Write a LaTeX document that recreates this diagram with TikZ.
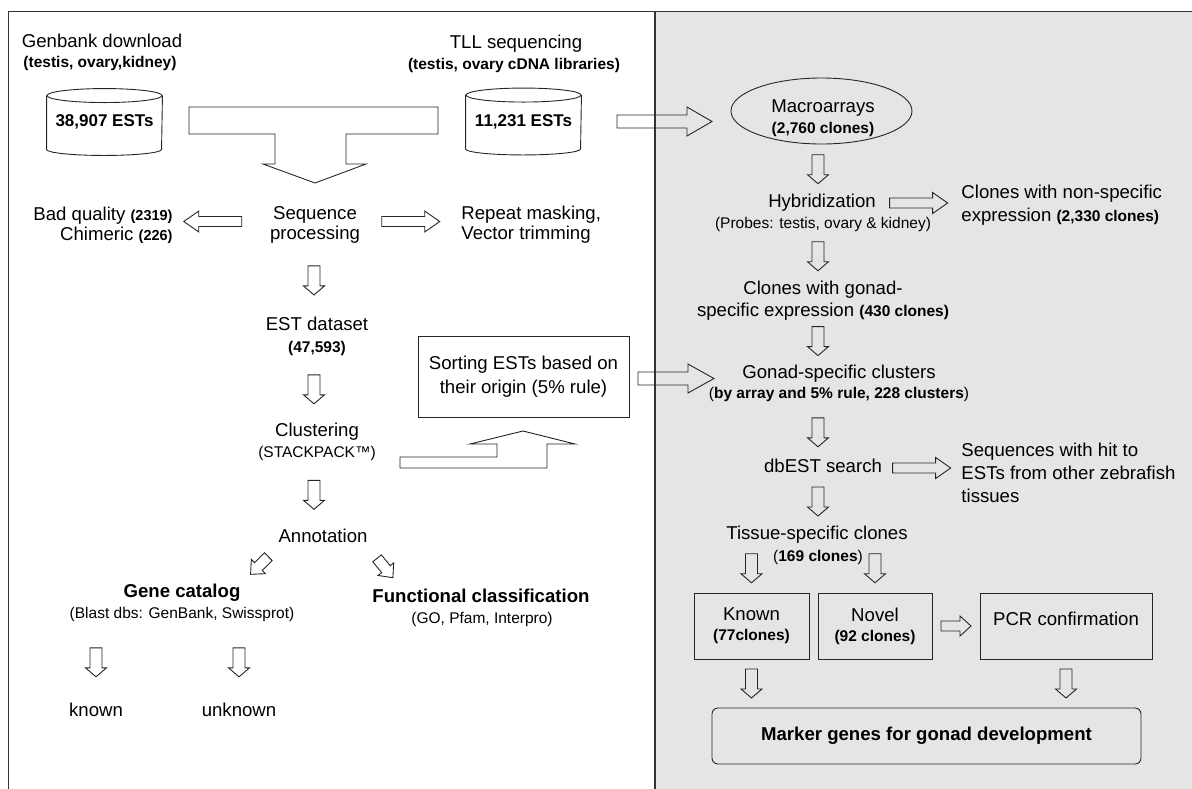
\documentclass[tikz,border=0pt]{standalone}
\usepackage{fontspec}
\setmainfont{Liberation Sans}
\usepackage{tikz}
\usetikzlibrary{shapes,arrows,calc,positioning}

% hollow block arrow centred between start and target:
% {length}{half shaft}{half head}{head length}
\tikzset{hollow/.style n args={4}{to path={
  let \p1=(\tikztostart), \p2=(\tikztotarget),
      \n1={atan2(\y2-\y1,\x2-\x1)},
      \p3=($(\p1)!0.5!(\p2)$)
  in ($(\p3)+(\n1+180:#1pt/2)+(\n1+90:#2pt)$)
     -- ++(\n1:#1pt-#4pt) -- ++(\n1+90:#3pt-#2pt)
     -- ($(\p3)+(\n1:#1pt/2)$)
     -- ($(\p3)+(\n1:#1pt/2-#4pt)+(\n1-90:#3pt)$)
     -- ++(\n1+90:#3pt-#2pt)
     -- ($(\p3)+(\n1+180:#1pt/2)+(\n1-90:#2pt)$) -- cycle}}}
\newcommand{\numbf}[1]{{\fontsize{15.5}{18}\selectfont\bfseries #1}}

\begin{document}
\begin{tikzpicture}[x=1pt, y=-1pt, line width=0.9pt]
	\tikzstyle{Txt}   = [inner sep=0pt, text height=13.4pt, text depth=3.7pt, font=\fontsize{18.6}{22}\selectfont]
	\tikzstyle{Head}  = [Txt, font=\fontsize{18.6}{22}\selectfont\bfseries]
	\tikzstyle{Multi} = [inner sep=0pt, align=center, font=\fontsize{18.6}{22}\selectfont]
	\tikzstyle{Sub}   = [inner sep=0pt, text height=11.2pt, text depth=3.1pt, font=\fontsize{15.5}{18}\selectfont\bfseries]
	\tikzstyle{SubN}  = [Sub, font=\fontsize{15.5}{18}\selectfont]
	\tikzstyle{Store} = [inner sep=0pt, minimum width=115pt, minimum height=66pt, font=\fontsize{17}{20}\selectfont\bfseries]
	\tikzstyle{Box}   = [draw=black!85, inner sep=0pt, align=center, minimum height=66pt, font=\fontsize{18.6}{20}\selectfont]
	\tikzstyle{Down}  = [draw=black!85, hollow={29}{6}{10.5}{9}]
	\tikzstyle{Side}  = [draw=black!85, hollow={58}{5}{10.5}{15}]
	\tikzstyle{Short} = [draw=black!85, hollow={30}{5}{10}{11}]
	\tikzstyle{Diag}  = [draw=black!85, hollow={25}{5.5}{10}{11}]
	\tikzstyle{Big}   = [draw=black!85, hollow={95}{6.5}{14.5}{25}]

	\useasboundingbox (0,0) rectangle (1192,788);
	\clip (0,0) rectangle (1192,788);
	\fill [black!10] (655,11.5) rectangle (1200,800);
	\draw [black!80, line width=1.2pt] (8.5,800) -- (8.5,11.5) -- (1200,11.5);
	\draw [black!80, line width=1.2pt] (655,11.5) -- (655,800);

	% axes of the two main columns
	\coordinate (lx) at (314, 0);
	\coordinate (rx) at (818, 0);

	% left panel
	\node (gb)      at (102, 43)      [Txt] {Genbank download};
	\node (gbsub)   at (100, 63)      [Sub] {(testis, ovary,kidney)};
	\node (db1)     at (104.5, 122)   [Store] {38,907 ESTs};
	\node (tll)     at (516, 44)      [Txt] {TLL sequencing};
	\node (tllsub)  at (514, 65)      [Sub] {(testis, ovary cDNA libraries)};
	\node (db2)     at (523.5, 121.5) [Store] {11,231 ESTs};
	\node (badq)    at (173, 225)     [Multi, align=right, anchor=east, font=\fontsize{18.6}{20}\selectfont]
		{Bad quality {\fontsize{14.5}{18}\selectfont\bfseries (2319)}\\Chimeric {\fontsize{14.5}{18}\selectfont\bfseries (226)}};
	\node (seq)     at (315, 225)     [Multi, font=\fontsize{18.6}{20}\selectfont] {Sequence\\processing};
	\node (rep)     at (461, 225)     [Multi, align=left, anchor=west, font=\fontsize{18.6}{20}\selectfont] {Repeat masking,\\Vector trimming};
	\node (est)     at (317, 326)     [Txt] {EST dataset};
	\node (estn)    at (317, 348)     [Sub] {(47,593)};
	\node (clu)     at (317, 432)     [Txt] {Clustering};
	\node (clusub)  at (317, 453)     [SubN] {(STACKPACK™)};
	\node (sort)    at (523.5, 376.5) [Box, minimum width=211pt, minimum height=81pt, font=\fontsize{18.6}{24}\selectfont]
		{Sorting ESTs based on\\their origin (5\% rule)};
	\node (ann)     at (323, 538)     [Txt] {Annotation};
	\node (gene)    at (182, 593)     [Head] {Gene catalog};
	\node (genesub) at (182, 614)     [SubN] {(Blast dbs: GenBank, Swissprot)};
	\node (func)    at (481, 598)     [Head] {Functional classification};
	\node (funcsub) at (482, 619)     [SubN] {(GO, Pfam, Interpro)};
	\node (kn1)     at (96, 712)      [Txt] {known};
	\node (unk)     at (239, 712)     [Txt] {unknown};

	% right panel
	\node (mac)     at (821.5, 111)   [ellipse, draw=black!85, inner sep=0pt, minimum width=181pt, minimum height=66pt] {};
	\node (mactxt)  at (823, 118)     [Multi, font=\fontsize{18.6}{21}\selectfont] {Macroarrays\\\numbf{(2,760 clones)}};
	\node (hyb)     at (822, 203)     [Txt] {Hybridization};
	\node (hybsub)  at (823, 224)     [SubN] {(Probes: testis, ovary \& kidney)};
	\node (nonsp)   at (961, 205)     [Multi, align=left, anchor=west, font=\fontsize{18.6}{23}\selectfont]
		{Clones with non-specific\\expression \numbf{(2,330 clones)}};
	\node (gon)     at (823, 301)     [Multi] {Clones with gonad-\\specific expression \numbf{(430 clones)}};
	\node (gsc)     at (839, 374)     [Txt] {Gonad-specific clusters};
	\node (gscsub)  at (839, 394)     [SubN] {(\textbf{by array and 5\% rule, 228 clusters})};
	\node (dbe)     at (823, 468)     [Txt] {dbEST search};
	\node (hit)     at (961, 473)     [Multi, align=left, anchor=west, font=\fontsize{18.6}{23}\selectfont]
		{Sequences with hit to\\ESTs from other zebrafish\\tissues};
	\node (tis)     at (817, 535)     [Txt] {Tissue-specific clones};
	\node (tissub)  at (818, 557)     [SubN] {(\textbf{169 clones})};
	\node (kn)      at (751.5, 626)   [Box, minimum width=115pt] {Known\\\numbf{(77clones)}};
	\node (nov)     at (875, 626)     [Box, minimum width=114pt] {Novel\\\numbf{(92 clones)}};
	\node (pcr)     at (1066, 626)    [Box, minimum width=172pt, text height=13.4pt, text depth=14pt] {PCR confirmation};
	\node (mark)    at (926.5, 736)   [Box, rounded corners=6pt, minimum width=429pt, minimum height=56pt,
		font=\fontsize{18.6}{20}\selectfont\bfseries] {Marker genes for gonad development};

	% cylinders
	\foreach \db in {db1, db2} {
		\draw [black!85] ([yshift=-7pt]\db.north west) -- ([yshift=6pt]\db.south west)
			arc [start angle=180, end angle=360, x radius=57.5pt, y radius=6pt] -- ([yshift=-7pt]\db.north east);
		\draw [black!85] ([yshift=-7pt]\db.north) ellipse [x radius=57.5pt, y radius=7pt];
	}

	% merging and elbow arrows
	\draw [black!85] (189,107) -- (438,107) -- (438,134) -- (346,134) -- (346,164) -- (366,164)
		-- (315,183) -- (263,164) -- (275,164) -- (275,134) -- (189,134) -- cycle;
	\draw [black!85] (400,457) -- (497,457) -- (497,444) -- (470,444) -- (523,431) -- (575,444)
		-- (547,444) -- (547,468) -- (400,468) -- cycle;

	\draw [Side] ([xshift=-17pt, yshift=3.5pt]seq.west) to ([yshift=3.5pt]seq.west -| badq.east);
	\draw [Side] ([yshift=3.5pt]seq.east) to ([yshift=3.5pt]seq.east -| rep.west);
	\draw [Down] (seq.south -| lx) to (est.north -| lx);
	\draw [Down] (estn.south -| lx) to (clu.north -| lx);
	\draw [Down] (clusub.south -| lx) to (ann.north -| lx);
	\draw [Diag] (ann.south west) to (gene.north east);
	\draw [Diag] (ann.south east) to ([xshift=30pt]func.north west);
	\draw [Down] (genesub.south -| kn1.north) to (kn1.north);
	\draw [Down] (genesub.south -| unk.north) to (unk.north);

	\draw [Big] ([xshift=17pt]db2.east) to (db2.east -| mac.west);
	\draw [Down] (mac.south -| rx) to (hyb.north -| rx);
	\draw [Side] (hyb.east) to (hyb.east -| nonsp.west);
	\draw [Down] (hybsub.south -| rx) to (gon.north -| rx);
	\draw [Down] ([yshift=4pt]gon.south -| rx) to (gsc.north -| rx);
	\draw [draw=black!85, hollow={76}{6.5}{14.5}{26}] ([yshift=-2pt]sort.east) to ([xshift=14pt, yshift=-2pt]sort.east -| gscsub.west);
	\draw [Down] ([yshift=-4pt]gscsub.south -| rx) to (dbe.north -| rx);
	\draw [Side] (dbe.east) to (dbe.east -| hit.west);
	\draw [Down] (dbe.south -| rx) to (tis.north -| rx);
	\draw [Down] (tis.south -| kn.north) to (kn.north);
	\draw [Down] (tis.south -| nov.north) to (nov.north);
	\draw [Short] (nov.east) to (pcr.west);
	\draw [Down] (kn.south) to (kn.south |- mark.north);
	\draw [Down] (pcr.south) to (pcr.south |- mark.north);
\end{tikzpicture}
\end{document}
